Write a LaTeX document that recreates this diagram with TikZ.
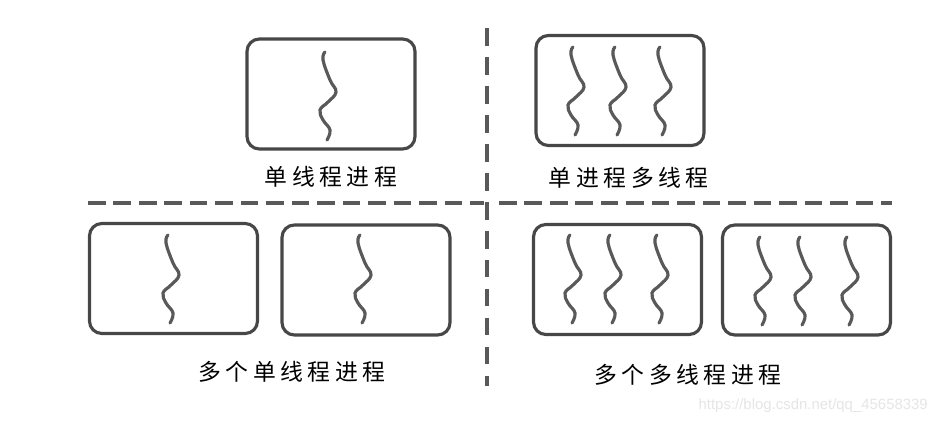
\documentclass[tikz,border=0pt]{standalone}
\usepackage{fontspec}
\setmainfont{Liberation Sans}
\newfontfamily\cjk[LetterSpace=20]{Noto Sans CJK SC}
\tikzstyle{process} = [rectangle, draw=black!72, line width=1.8pt, rounded corners=7pt,
    minimum width=3.36cm, minimum height=2.2cm, inner sep=0pt]
\tikzstyle{thread} = [draw=black!65, line width=1.8pt, line cap=round]
\tikzstyle{divider} = [draw=black!65, line width=2.2pt, dash pattern=on 10pt off 4.5pt]
\tikzstyle{caption} = [font=\cjk\fontsize{13}{15}\selectfont, inner sep=0pt]

\begin{document}
\begin{tikzpicture}[x=0.02cm, y=-0.02cm, node distance=1.66cm]
            \useasboundingbox (0,0) rectangle (943,426);
            % Place process boxes
            \node [process] (single) at (331,94) {};
            \node [process] (multi) at (620,90.5) {};
            \node [process] (singleA) at (173.5,278.5) {};
            \node [process] (singleB) at (366,280) {};
            \node [process] (multiA) at (617.5,279.5) {};
            \node [process] (multiB) at (806.5,280) {};
            % Captions
            \node [caption, below of=single] (capsingle) {单线程进程};
            \node [caption, below of=multi, xshift=5pt, node distance=1.75cm] (capmulti) {单进程多线程};
            \node [caption] (capsingles) at (292,372) {多个单线程进程};
            \node [caption] (capmultis) at (688,375) {多个多线程进程};
            % Threads
            \foreach \x/\y in {325/52, 573/47, 615/47, 660/47, 168/235, 360/235,
                    570/235, 610/235, 657/235, 760/237, 800/237, 847/237}
                \draw [thread, shift={(\x,\y)}] plot [smooth, tension=0.7] coordinates
                    {(0,0) (-2,8) (5,28) (11,40) (3,50) (-5,58) (-2,68) (5,78) (2,88)};
            % Dividing lines
            \draw [divider] (88,203) -- (484,203);
            \draw [divider] (499,203) -- (892,203);
            \draw [divider, dash pattern=on 10pt off 6.5pt] (487,28) -- (487,386);
            \node [font=\fontsize{8.5}{10}\selectfont, text=black!10, anchor=east] (url) at (934,406) {https://blog.csdn.net/qq\_45658339};
        \end{tikzpicture}
\end{document}
